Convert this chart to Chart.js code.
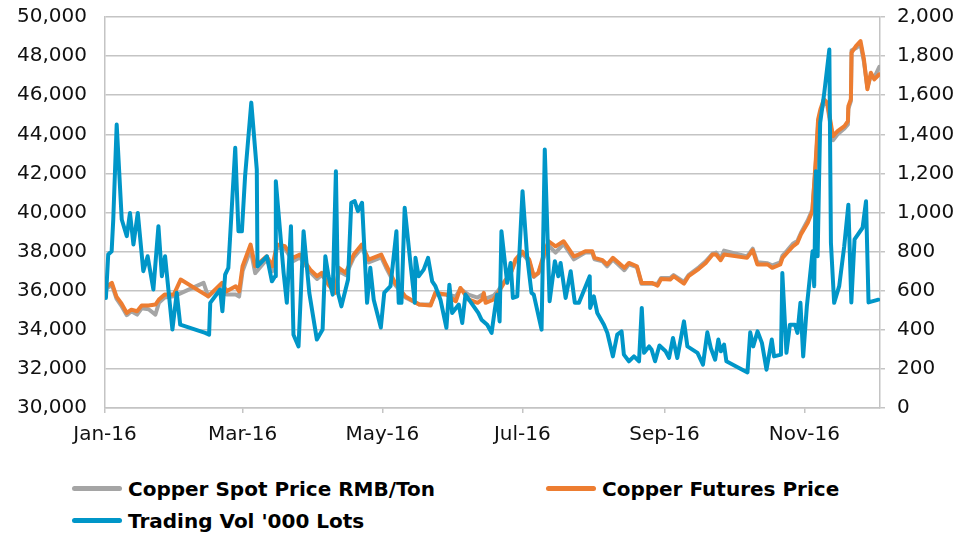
<!DOCTYPE html>
<html>
<head>
<meta charset="utf-8">
<script src="https://cdn.jsdelivr.net/npm/chart.js@4.4.1/dist/chart.umd.min.js"></script>
<style>
  body { margin: 0; background: #fff; }
  #wrap { position: relative; width: 964px; height: 535px; }
  #chart { position: absolute; left: 0; top: 0; }
  .lg { position: absolute; font: bold 20px "DejaVu Sans", sans-serif; color: #000; line-height: 24px; white-space: nowrap; }
  .sw { display: inline-block; width: 50px; height: 5px; border-radius: 3px; vertical-align: middle; margin-right: 6px; position: relative; top: -2px; }
</style>
</head>
<body>
<div id="wrap">
  <canvas id="chart" width="964" height="460"></canvas>
  <div class="lg" style="left:72px;top:477px"><span class="sw" style="background:#A5A5A5"></span>Copper Spot Price RMB/Ton</div>
  <div class="lg" style="left:546px;top:477px"><span class="sw" style="background:#ED7D31"></span>Copper Futures Price</div>
  <div class="lg" style="left:72px;top:509px"><span class="sw" style="background:#0096C8"></span>Trading Vol '000 Lots</div>
</div>
<script>
// x positions are days counted from the start of the axis (Jan 2016)
const tickDays = [0, 60, 121, 182, 244, 305];
const tickLabels = ["Jan-16", "Mar-16", "May-16", "Jul-16", "Sep-16", "Nov-16"];

const spotDays = [
  0, 3, 5, 7, 9.5, 11.5, 14, 16, 19, 22,
  23.5, 26, 30, 43, 45, 51, 53, 57, 58.5, 60,
  63.5, 65.5, 70.5, 73, 75, 78.5, 82, 85, 89.5, 92.5,
  94.5, 97.5, 100.5, 102, 105, 108.5, 112, 115, 120.5, 122.5,
  126.5, 131, 137, 142, 144, 149, 153, 155, 158.5, 162.5,
  164.5, 166, 169.5, 171.5, 174, 177, 179, 182, 185, 187,
  189, 192, 193.5, 196.5, 200, 204.5, 206.5, 209.5, 212.5, 213.5,
  217, 219, 221.5, 226.5, 228.5, 232, 234, 238.5, 241, 242.5,
  246.5, 248, 252.5, 254.5, 259, 262, 265, 266.5, 268.5, 270,
  280, 282.5, 284.5, 289, 291, 294.5, 295.5, 297.5, 300, 302,
  303.5, 306.5, 308.5, 310, 311, 312, 313.5, 315, 317.5, 319.5,
  322.5, 324, 324.2, 325.3, 325.6, 327.5, 329.5, 331, 332.5, 334,
  335.5, 337.7
];
const spotPrice = [
  36050, 36300, 35600, 35250, 34750, 34950, 34780, 35100, 35050, 34780,
  35380, 35650, 35710, 36400, 35710, 36300, 35800, 35800, 35700, 37000,
  38100, 36900, 37600, 37000, 38200, 38150, 37500, 37700, 36950, 36600,
  36800, 36400, 36050, 37000, 36800, 37700, 38200, 37450, 37700, 37200,
  36300, 35650, 35300, 35300, 35800, 35800, 35700, 36100, 35800, 35650,
  35800, 35600, 35750, 36000, 36450, 36900, 37500, 37900, 37500, 36700,
  36900, 37900, 38300, 37950, 38400, 37600, 37750, 37950, 37950, 37600,
  37500, 37250, 37600, 37050, 37350, 37200, 36350, 36350, 36350, 36650,
  36650, 36800, 36450, 36800, 37200, 37500, 37900, 37950, 37650, 38050,
  37750, 38150, 37450, 37400, 37300, 37450, 37800, 38050, 38400, 38550,
  38950, 39600, 40150, 42500, 44500, 45100, 45600, 45500, 43700, 44000,
  44300, 44500, 45300, 45700, 48300, 48400, 48600, 47700, 46400, 47000,
  46900, 47450
];

const futDays = [
  0, 3, 5, 7, 9.5, 11.5, 14, 16, 19, 22,
  23.5, 26, 30, 33, 45, 51, 53, 57, 58.5, 60,
  63.5, 65.5, 70.5, 73, 75, 78.5, 82, 85, 89.5, 92.5,
  94.5, 97.5, 100.5, 102, 105, 108.5, 112, 115, 120.5, 122.5,
  126.5, 131, 137, 142, 144, 149, 153, 155, 158.5, 162.5,
  164.5, 165.2, 166, 169.5, 171.5, 174, 177, 179, 182, 185,
  187, 189, 192, 193.5, 196.5, 200, 204.5, 206.5, 209.5, 212.5,
  213.5, 217, 219, 221.5, 226.5, 228.5, 232, 234, 238.5, 241,
  242.5, 246.5, 248, 252.5, 254.5, 259, 262, 265, 266.5, 268.5,
  270, 280, 282.5, 284.5, 289, 291, 294.5, 295.5, 297.5, 300,
  302, 303.5, 306.5, 308.5, 310, 311, 312, 313.5, 315, 317.5,
  319.5, 322.5, 324, 324.2, 325.3, 325.6, 327.5, 329.5, 331, 332.5,
  334, 335.5, 337.7
];
const futPrice = [
  36150, 36400, 35700, 35380, 34860, 35030, 34950, 35240, 35240, 35290,
  35550, 35800, 35800, 36570, 35710, 36400, 35970, 36230, 35970, 37250,
  38360, 37250, 37760, 37250, 38360, 38270, 37680, 37850, 37080, 36740,
  36910, 36300, 35890, 37170, 36910, 37850, 38360, 37590, 37850, 37340,
  36400, 35710, 35290, 35240, 35890, 35800, 35460, 36140, 35550, 35380,
  35550, 35890, 35380, 35550, 35890, 36400, 36910, 37590, 38000, 37590,
  36740, 36910, 38100, 38530, 38270, 38530, 37760, 37850, 38020, 38020,
  37680, 37560, 37340, 37680, 37170, 37420, 37250, 36400, 36400, 36260,
  36600, 36570, 36740, 36360, 36740, 37120, 37420, 37850, 37850, 37560,
  37850, 37680, 38070, 37340, 37340, 37170, 37340, 37680, 37940, 38270,
  38450, 38870, 39470, 40070, 42710, 44760, 45270, 45790, 45620, 43910,
  44160, 44420, 44670, 45440, 45790, 48180, 48510, 48770, 47830, 46300,
  47150, 46810, 47070
];

const volDays = [
  0.4, 1.4, 2.9, 3.6, 5.1, 7.3, 9.5, 10.9, 12.4, 14.3,
  16.7, 18.6, 21.1, 23.3, 24.8, 26.2, 29.4, 31.3, 32.8, 43.7,
  45.4, 45.9, 50.2, 51.2, 52.4, 53.8, 56.8, 58.2, 59.7, 61.1,
  63.8, 66.2, 66.5, 70.6, 72.8, 74.2, 74.5, 77.9, 79.3, 81.1,
  82.2, 84.4, 86.6, 89.1, 92.4, 94.9, 96.1, 97.5, 99.3, 100.7,
  101.6, 103.1, 106, 107.4, 108.9, 110.3, 112.1, 114.3, 115.7, 117.2,
  120.3, 121.8, 124.5, 127.1, 128.1, 129.3, 130.7, 133.2, 135.1, 135.4,
  136.8, 139, 140.9, 142.7, 144.1, 146.3, 148.9, 150.2, 151.4, 154.3,
  155.8, 157.2, 160.8, 162.8, 164.2, 166.7, 168.6, 170, 171, 172.1,
  172.9, 175.4, 176.9, 177.9, 179.8, 182.1, 184.1, 186, 187, 190.4,
  191.8, 193.9, 196.2, 197.7, 198.7, 200.9, 203.1, 204.9, 206.7, 211.4,
  211.6, 213.2, 214.7, 217.6, 219.1, 221.5, 223.4, 225.3, 226.3, 228.5,
  230.7, 232.9, 234.1, 235.1, 237.3, 238.4, 239.9, 241.8, 244.5, 246,
  247.7, 249.6, 252.5, 254, 258.4, 260.8, 262.7, 264.2, 266.1, 267.5,
  268.6, 270, 271, 280.2, 281.4, 282.7, 284.6, 286.5, 288.5, 290.8,
  291.8, 294.8, 295.4, 297.2, 298.7, 300.9, 302, 303.3, 304.5, 306.1,
  308.6, 309.3, 310, 310.8, 311.9, 313.7, 315.9, 316.6, 318, 320.2,
  322.4, 324.2, 325.5, 326.9, 330.4, 331.9, 333, 337.3
];
const volume = [
  563, 785, 802, 964, 1450, 964, 879, 998, 836, 998,
  700, 776, 606, 930, 674, 776, 401, 589, 426, 384,
  375, 538, 606, 495, 682, 717, 1331, 904, 904, 1186,
  1562, 1220, 725, 776, 648, 674, 1160, 691, 538, 930,
  375, 315, 904, 589, 350, 401, 776, 674, 580, 1211,
  589, 520, 657, 1050, 1058, 1007, 1050, 538, 717, 554,
  412, 590, 623, 904, 538, 538, 1024, 742, 538, 768,
  674, 708, 768, 648, 623, 554, 410, 631, 486, 529,
  435, 580, 520, 486, 452, 426, 384, 503, 580, 443,
  904, 640, 742, 563, 571, 1109, 776, 589, 580, 401,
  1322, 546, 751, 674, 742, 563, 700, 538, 538, 674,
  512, 571, 486, 426, 384, 264, 375, 392, 273, 239,
  264, 239, 512, 282, 315, 298, 239, 320, 290, 256,
  358, 256, 443, 315, 282, 222, 387, 307, 247, 350,
  290, 324, 239, 182, 387, 315, 392, 333, 196, 350,
  264, 273, 691, 282, 426, 426, 384, 538, 264, 520,
  802, 623, 1211, 776, 1459, 1613, 1834, 845, 538, 623,
  827, 1040, 540, 862, 922, 1058, 540, 554
];

function pts(xs, ys) {
  return xs.map((x, i) => ({ x: x, y: ys[i] }));
}

// y axes: fixed width, and no extra room reserved above the top label
function fitY(width) {
  return s => {
    s.width = width;
    s.paddingTop = 0;
    s.paddingBottom = 0;
  };
}

const gridColor = "#C4C4C4";
Chart.defaults.font.family = "DejaVu Sans";
Chart.defaults.font.size = 20;
Chart.defaults.color = "#111";

new Chart("chart", {
  type: "line",
  data: {
    datasets: [
      { label: "Copper Spot Price RMB/Ton", data: pts(spotDays, spotPrice), borderColor: "#A5A5A5", yAxisID: "y", order: 3 },
      { label: "Copper Futures Price", data: pts(futDays, futPrice), borderColor: "#ED7D31", yAxisID: "y", order: 2 },
      { label: "Trading Vol '000 Lots", data: pts(volDays, volume), borderColor: "#0096C8", yAxisID: "y1", order: 1 }
    ]
  },
  options: {
    responsive: false,
    animation: false,
    devicePixelRatio: 1,
    locale: "en-US",
    layout: { padding: { top: 17 } },
    elements: {
      line: { borderWidth: 4, tension: 0, borderJoinStyle: "round", borderCapStyle: "round" },
      point: { radius: 0 }
    },
    plugins: { legend: { display: false }, tooltip: { enabled: false } },
    scales: {
      x: {
        type: "linear",
        min: 0,
        max: 338,
        afterBuildTicks: s => { s.ticks = tickDays.map(v => ({ value: v })); },
        afterFit: s => { s.height = 52; },
        ticks: {
          autoSkip: false,
          maxRotation: 0,
          padding: 10,
          callback: v => tickLabels[tickDays.indexOf(v)]
        },
        grid: { drawOnChartArea: false, tickLength: 5, color: gridColor, lineWidth: 1.5 },
        border: { color: gridColor, width: 1.5 }
      },
      y: {
        position: "left",
        min: 30000,
        max: 50000,
        afterFit: fitY(105),
        ticks: { stepSize: 2000, padding: 18 },
        grid: { drawTicks: false, color: gridColor, lineWidth: 1.5 },
        border: { color: gridColor, width: 1.5 }
      },
      y1: {
        position: "right",
        min: 0,
        max: 2000,
        afterFit: fitY(84),
        ticks: { stepSize: 200, padding: 12 },
        grid: { drawOnChartArea: false, tickLength: 5, color: gridColor, lineWidth: 1.5 },
        border: { color: gridColor, width: 1.5 }
      }
    }
  }
});
</script>
</body>
</html>
